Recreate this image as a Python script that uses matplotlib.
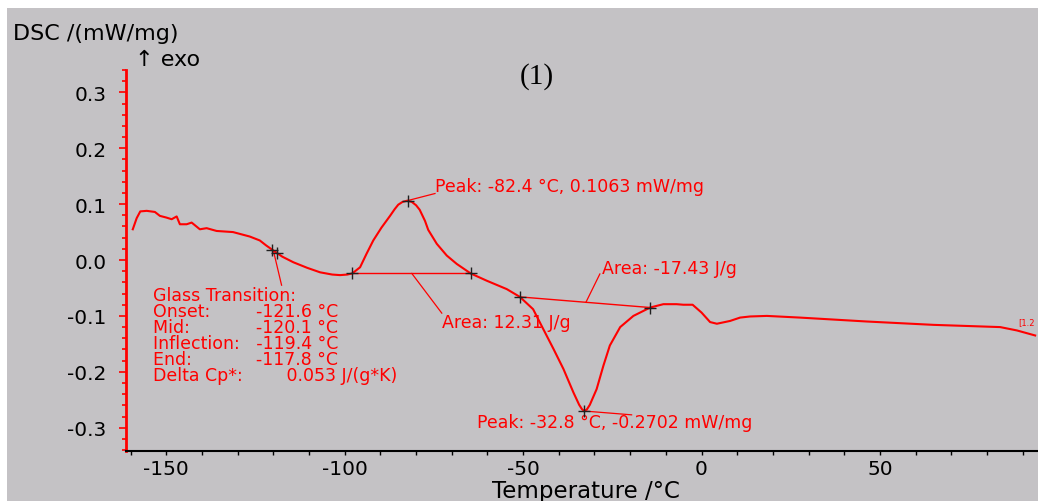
import numpy as np
import matplotlib
matplotlib.use("Agg")
import matplotlib.pyplot as plt
from matplotlib.patches import Rectangle
from matplotlib.font_manager import FontProperties
from matplotlib.ticker import MultipleLocator, FixedLocator, FuncFormatter

# ---------------- data ----------------
temperature = [-159.4, -158.3, -157.3, -155.5, -153.2, -151.8, -150.0, -148.5, -147.1, -146.2,
               -144.3, -142.9, -140.6, -138.7, -135.9, -131.3, -126.6, -123.8, -122.0, -120.0,
               -117.5, -114.4, -110.5, -106.9, -103.5, -101.3, -99.3, -97.9, -95.7, -93.9,
               -92.0, -89.7, -87.3, -86.0, -85.0, -83.8, -82.4, -81.2, -80.0, -79.0,
               -77.5, -76.6, -74.2, -71.4, -68.6, -64.7, -60.2, -54.6, -50.9, -47.2,
               -44.4, -41.5, -38.7, -35.9, -34.3, -33.5, -32.8, -32.1, -31.3, -29.4,
               -27.5, -25.7, -22.8, -19.1, -14.4, -10.7, -7.0, -5.1, -2.5, 0.0,
               2.4, 4.3, 8.0, 10.8, 13.6, 18.3, 27.6, 46.3, 65.0, 83.7,
               88.4, 93.5]
dsc = [0.055, 0.075, 0.087, 0.088, 0.086, 0.079, 0.076, 0.073, 0.078, 0.064,
       0.064, 0.067, 0.055, 0.057, 0.052, 0.050, 0.042, 0.035, 0.026, 0.017,
       0.006, -0.004, -0.014, -0.022, -0.026, -0.027, -0.026, -0.024, -0.013, 0.011,
       0.035, 0.058, 0.079, 0.091, 0.099, 0.104, 0.1063, 0.104, 0.098, 0.090,
       0.070, 0.054, 0.029, 0.008, -0.007, -0.024, -0.037, -0.052, -0.066, -0.088,
       -0.123, -0.159, -0.195, -0.237, -0.259, -0.267, -0.2702, -0.267, -0.259, -0.231,
       -0.189, -0.153, -0.120, -0.100, -0.085, -0.079, -0.079, -0.080, -0.080, -0.094,
       -0.111, -0.114, -0.109, -0.103, -0.101, -0.100, -0.103, -0.110, -0.116, -0.120,
       -0.126, -0.135]

peak_temps = [-82.4, -32.8]
peak_values = [0.1063, -0.2702]
exo_limits = [-97.9, -64.7]
endo_limits = [-50.9, -14.4]
tg_marks = [-120.4, -119.1]
tg_labels = ["Onset:", "Mid:", "Inflection:", "End:"]
tg_values = [-121.6, -120.1, -119.4, -117.8]
delta_cp = 0.053
area_exo = 12.31
area_endo = -17.43
x_ticks = [-150, -100, -50, 0, 50]
y_ticks = [-0.3, -0.2, -0.1, 0.0, 0.1, 0.2, 0.3]

# ---------------- style ----------------
plt.rcParams['font.family'] = ['DejaVu Sans']
plt.rcParams['axes.unicode_minus'] = False
RED = '#ff0000'
GRAY = '#c4c2c5'
ANN = 12.5

W, H = 1038, 502
fig = plt.figure(figsize=(W / 100, H / 100), dpi=100)
fig.patch.set_facecolor('white')
fig.add_artist(Rectangle((7 / W, 0), 1, (H - 9) / H, transform=fig.transFigure,
                         facecolor=GRAY, edgecolor='none', zorder=-5))

ax = fig.add_axes([126 / W, (H - 452) / H, (W - 126) / W, 381 / H])
ax.set_facecolor(GRAY)
ax.set_xlim(-161.3, 94.3)
ax.set_ylim(-0.3417, 0.340)

for s in ['top', 'right']:
    ax.spines[s].set_visible(False)
ax.spines['left'].set_color(RED)
ax.spines['left'].set_linewidth(2)
ax.spines['bottom'].set_color('black')
ax.spines['bottom'].set_linewidth(1.5)

ax.xaxis.set_major_locator(FixedLocator(x_ticks))
ax.xaxis.set_minor_locator(MultipleLocator(10))
ax.yaxis.set_major_locator(FixedLocator(y_ticks))
ax.yaxis.set_minor_locator(MultipleLocator(0.02))
ax.yaxis.set_major_formatter(FuncFormatter(lambda v, p: f"{round(v, 1) + 0.0:.1f}"))
ax.tick_params(axis='x', which='both', direction='out', length=3, width=1, color='black',
               labelsize=14.5, pad=3, labelcolor='black')
ax.tick_params(axis='y', which='major', direction='out', length=5, width=1.2, color=RED,
               labelsize=14.5, pad=9, labelcolor='black')
ax.tick_params(axis='y', which='minor', direction='out', length=3, width=1.2, color=RED)

# curve
ax.plot(temperature, dsc, color=RED, lw=1.5, zorder=3, clip_on=False,
        solid_joinstyle='round')

def on_curve(t):
    return float(np.interp(t, temperature, dsc))

# baselines
exo_y = [on_curve(t) for t in exo_limits]
endo_y = [on_curve(t) for t in endo_limits]
ax.plot(exo_limits, exo_y, color=RED, lw=1.0, zorder=2)
ax.plot(endo_limits, endo_y, color=RED, lw=1.0, zorder=2)

# markers
mk = dict(marker='+', color='#202020', markersize=8, mew=1.0, ls='none', zorder=5)
ax.plot(tg_marks, [on_curve(t) for t in tg_marks], **mk)
ax.plot(exo_limits + endo_limits, exo_y + endo_y, **mk)
ax.plot(peak_temps, peak_values, **mk)

lk = dict(color=RED, lw=0.9, zorder=2)
tk = dict(color=RED, fontsize=ANN, va='center', ha='left')

# peak 1
ax.plot([peak_temps[0], -74.7], [peak_values[0], 0.119], **lk)
ax.text(-74.7, 0.133, f"Peak: {peak_temps[0]} °C, {peak_values[0]:.4f} mW/mg", **tk)
# peak 2
ax.plot([peak_temps[1], -19.6], [peak_values[1], -0.277], **lk)
ax.text(-63.0, -0.289, f"Peak: {peak_temps[1]} °C, {peak_values[1]:.4f} mW/mg", **tk)

# area exo
xa = -81.2
ya = np.interp(xa, exo_limits, exo_y)
ax.plot([xa, -72.8], [ya, -0.095], **lk)
ax.text(-72.6, -0.110, f"Area: {area_exo:.2f} J/g", **tk)
# area endo
xb = -32.4
yb = np.interp(xb, endo_limits, endo_y)
ax.plot([xb, -28.5], [yb, -0.025], **lk)
ax.text(-28.0, -0.0143, f"Area: {area_endo:.2f} J/g", **tk)

# glass transition block (one text, columns aligned with padding spaces)
renderer = fig.canvas.get_renderer()
fp = FontProperties(family='DejaVu Sans', size=ANN)

def tw(s):
    w, h, d = renderer.get_text_width_height_descent(s, fp, ismath=False)
    return w

sp = tw("a a") - tw("aa")
hs = tw("a\u200aa") - tw("aa")

def pad(label, target_px):
    gap = target_px - tw(label)
    n = max(int(gap // sp), 1)
    rem = gap - n * sp
    m = int(round(rem / hs)) if hs > 0.5 else 0
    return label + " " * n + "\u200a" * max(m, 0)

lines = ["Glass Transition:"]
for lab, val in zip(tg_labels, tg_values):
    lines.append(pad(lab, 103.4) + f"{val:.1f} °C")
lines.append(pad("Delta Cp*:", 133.4) + f"{delta_cp:.3f} J/(g*K)")
ax.plot([tg_marks[0] + 0.4, -117.7], [on_curve(tg_marks[0] + 0.4), -0.045], **lk)
ax.text(-153.7, -0.0460, "\n".join(lines), color=RED, fontsize=ANN, ha='left', va='top',
        linespacing=0.86)

# small end label
ax.text(88.8, -0.110, "[1.2", color=RED, fontsize=6, ha='left', va='center', clip_on=False)

# axis titles
fig.text(13 / W, 1 - 40 / H, "DSC /(mW/mg)", fontsize=16, color='black', ha='left', va='baseline')
fig.text(135 / W, 1 - 60 / H, "↑ exo", fontsize=16, color='black', ha='left', va='center')
fig.text(585.5 / W, 1 - 498 / H, "Temperature /°C", fontsize=16.5, color='black',
         ha='center', va='baseline')
fig.text(537 / W, 1 - 77 / H, "(1)", fontsize=21, family='Liberation Serif', color='black',
         ha='center', va='center')

fig.savefig("out.png", dpi=100, facecolor=fig.get_facecolor())
